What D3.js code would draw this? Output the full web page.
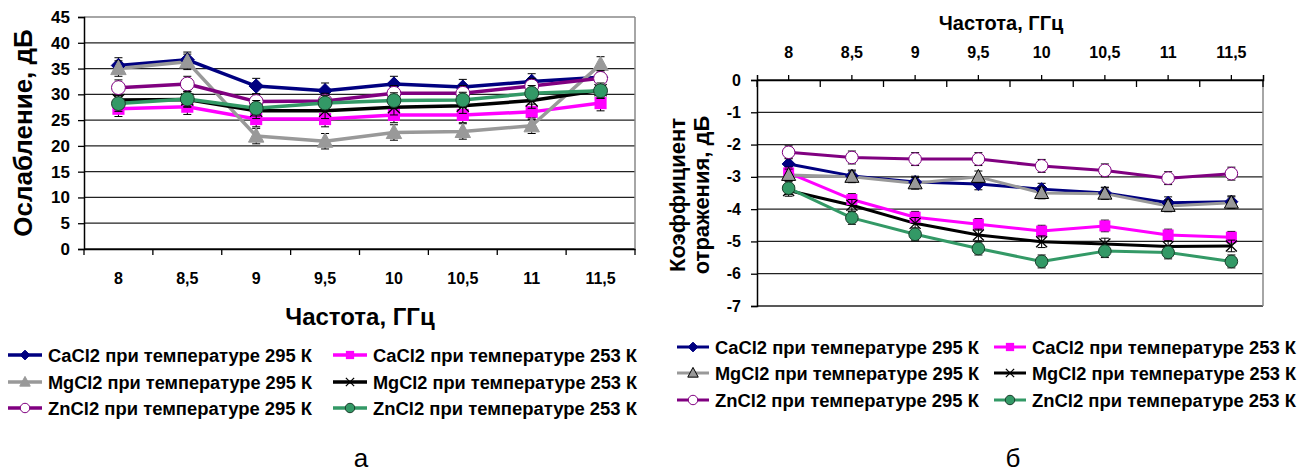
<!DOCTYPE html>
<html><head><meta charset="utf-8">
<script src="https://cdn.jsdelivr.net/npm/d3@7"></script>
<style>
body{margin:0;background:#fff;}
text{font-family:"Liberation Sans",Arial,sans-serif;}
</style></head>
<body><svg id="c" width="1312" height="476"></svg>
<script>
// ---------- data ----------
const categories = ["8","8,5","9","9,5","10","10,5","11","11,5"];
const seriesNames = [
  "CaCl2 при температуре 295 К","CaCl2 при температуре 253 К",
  "MgCl2 при температуре 295 К","MgCl2 при температуре 253 К",
  "ZnCl2 при температуре 295 К","ZnCl2 при температуре 253 К"];
// (а) attenuation, dB
const attenCa295 = [35.6,36.7,31.6,30.7,32.0,31.4,32.5,33.3];
const attenCa253 = [27.2,27.6,25.2,25.2,26.0,26.0,26.6,28.3];
const attenMg295 = [35.0,36.3,21.9,20.9,22.6,22.8,23.9,35.8];
const attenMg253 = [28.9,29.0,26.8,26.8,27.5,27.8,28.8,30.8];
const attenZn295 = [31.3,32.0,28.6,28.7,30.2,30.2,31.6,33.1];
const attenZn253 = [28.2,29.1,27.3,28.3,28.8,28.9,30.2,30.7];
const attenErr = [1.5,1.5,1.5,1.5,1.5,1.5];
// (б) reflection coefficient, dB
const reflCa295 = [-2.60,-2.97,-3.16,-3.22,-3.38,-3.50,-3.80,-3.77];
const reflCa253 = [-2.88,-3.70,-4.25,-4.47,-4.68,-4.52,-4.80,-4.87];
const reflMg295 = [-2.94,-3.00,-3.20,-3.00,-3.50,-3.52,-3.90,-3.80];
const reflMg253 = [-3.42,-3.88,-4.44,-4.80,-5.01,-5.08,-5.16,-5.14];
const reflZn295 = [-2.24,-2.40,-2.45,-2.45,-2.66,-2.80,-3.04,-2.90];
const reflZn253 = [-3.35,-4.27,-4.78,-5.22,-5.62,-5.30,-5.34,-5.62];
const reflErr = [0.18,0.18,0.18,0.18,0.2,0.2];
const attenTicks = [0,5,10,15,20,25,30,35,40,45];
const reflTicks = [0,-1,-2,-3,-4,-5,-6,-7];

// ---------- styles ----------
const styles = [
  {color:"#000080", marker:"diamond", fill:"#000080", stroke:"#000080"},
  {color:"#FF00FF", marker:"square", fill:"#FF00FF", stroke:"#FF00FF"},
  {color:"#999999", marker:"triangle", fill:"#999999", stroke:"#999999"},
  {color:"#000000", marker:"x", fill:"none", stroke:"#000000"},
  {color:"#800080", marker:"circle", fill:"#ffffff", stroke:"#800080"},
  {color:"#339966", marker:"circle", fill:"#339966", stroke:"#1a3d2b"}
];
const svg = d3.select("#c");
const FONT = "Liberation Sans, Arial, sans-serif";

function drawMarker(g, type, x, y, st, sz, strokeOverride){
  const s = sz || 1;
  if(type==="diamond"){
    g.append("path").attr("d",`M${x},${y-6.5*s}L${x+6.5*s},${y}L${x},${y+6.5*s}L${x-6.5*s},${y}Z`).attr("fill",st.fill).attr("stroke",st.stroke).attr("stroke-width",1);
  } else if(type==="square"){
    g.append("rect").attr("x",x-5.5*s).attr("y",y-5.5*s).attr("width",11*s).attr("height",11*s).attr("fill",st.fill);
  } else if(type==="triangle"){
    g.append("path").attr("d",`M${x},${y-7.5*s}L${x+7*s},${y+5.5*s}L${x-7*s},${y+5.5*s}Z`).attr("fill",st.fill).attr("stroke",strokeOverride||st.stroke).attr("stroke-width",1);
  } else if(type==="x"){
    g.append("path").attr("d",`M${x-5.5*s},${y-5.5*s}L${x+5.5*s},${y+5.5*s}M${x-5.5*s},${y+5.5*s}L${x+5.5*s},${y-5.5*s}`).attr("stroke",st.stroke).attr("stroke-width",1.3);
  } else if(type==="circle"){
    g.append("circle").attr("cx",x).attr("cy",y).attr("r",6.3*s).attr("fill",st.fill).attr("stroke",st.stroke).attr("stroke-width",1);
  }
}

function chart(cfg){
  const x = d3.scaleBand().domain(categories).range([cfg.left,cfg.right]);
  const y = d3.scaleLinear().domain(cfg.domain).range([cfg.bottom,cfg.top]);
  const g = svg.append("g");
  cfg.ticks.forEach(t=>{
    g.append("line").attr("x1",cfg.left).attr("x2",cfg.right).attr("y1",y(t)).attr("y2",y(t))
      .attr("stroke", (t===cfg.domain[1] && !cfg.topAxis) ? "#888" : "#222").attr("stroke-width",1.3);
  });
  g.append("line").attr("x1",cfg.right).attr("x2",cfg.right).attr("y1",cfg.top).attr("y2",cfg.bottom).attr("stroke","#888").attr("stroke-width",1.5);
  const ya = d3.axisLeft(y).tickValues(cfg.ticks).tickSize(6).tickPadding(cfg.yPad).tickFormat(d=>String(d));
  const yg = g.append("g").attr("transform",`translate(${cfg.left},0)`).call(ya);
  yg.select(".domain").attr("stroke","#000").attr("stroke-width",1.5);
  yg.selectAll(".tick line").attr("stroke","#000").attr("stroke-width",1.3);
  yg.selectAll("text").attr("font-family",FONT).attr("font-weight","bold").attr("font-size",cfg.yFont).attr("fill","#000");
  if(!cfg.topAxis){
    const xa = d3.axisBottom(x).tickSize(0).tickPadding(24);
    const xg = g.append("g").attr("transform",`translate(0,${cfg.bottom})`).call(xa);
    xg.select(".domain").attr("stroke","#000").attr("stroke-width",1.5);
    xg.selectAll("text").attr("font-family",FONT).attr("font-weight","bold").attr("font-size",16).attr("fill","#000");
    categories.concat(["end"]).forEach((c,i)=>{
      const xx = cfg.left + i*x.bandwidth();
      g.append("line").attr("x1",xx).attr("x2",xx).attr("y1",cfg.bottom).attr("y2",cfg.bottom+6).attr("stroke","#000").attr("stroke-width",1.3);
    });
  } else {
    const xa = d3.axisTop(x).tickSize(5).tickPadding(17);
    const xg = g.append("g").attr("transform",`translate(0,${cfg.top})`).call(xa);
    xg.select(".domain").attr("stroke","#000").attr("stroke-width",1.5);
    xg.selectAll(".tick line").attr("stroke","#000").attr("stroke-width",1.3);
    xg.selectAll("text").attr("font-family",FONT).attr("font-weight","bold").attr("font-size",16).attr("fill","#000");
    categories.concat(["end"]).forEach((c,i)=>{
      const xx = cfg.left + i*x.bandwidth();
      g.append("line").attr("x1",xx).attr("x2",xx).attr("y1",cfg.top).attr("y2",cfg.top+7).attr("stroke","#000").attr("stroke-width",1.3);
    });
  }
  const line = d3.line().x((d,i)=>x(categories[i])+x.bandwidth()/2).y(d=>y(d));
  cfg.series.forEach((vals,si)=>{
    const st = styles[si];
    g.append("path").attr("d",line(vals)).attr("fill","none").attr("stroke",st.color).attr("stroke-width",cfg.lw).attr("stroke-linejoin","round");
  });
  cfg.series.forEach((vals,si)=>{
    const st = styles[si];
    const e = cfg.errors[si];
    vals.forEach((v,i)=>{
      const cx = x(categories[i])+x.bandwidth()/2;
      g.append("line").attr("x1",cx).attr("x2",cx).attr("y1",y(v-e)).attr("y2",y(v+e)).attr("stroke","#000").attr("stroke-width",1);
      [v-e,v+e].forEach(w=>g.append("line").attr("x1",cx-4).attr("x2",cx+4).attr("y1",y(w)).attr("y2",y(w)).attr("stroke","#000").attr("stroke-width",1));
    });
    vals.forEach((v,i)=>{
      const cx = x(categories[i])+x.bandwidth()/2;
      drawMarker(g, st.marker, cx, y(v), st, cfg.ms, cfg.triStroke);
    });
  });
  return {x,y,g};
}

chart({left:84,right:635,top:17,bottom:249,domain:[0,45],ticks:attenTicks,
  series:[attenCa295,attenCa253,attenMg295,attenMg253,attenZn295,attenZn253],
  errors:attenErr, lw:3.5, ms:1.1, topAxis:false, yFont:17, yPad:8});
chart({left:757,right:1263,top:80,bottom:306,domain:[-7,0],ticks:reflTicks,
  series:[reflCa295,reflCa253,reflMg295,reflMg253,reflZn295,reflZn253],
  errors:reflErr, lw:3, ms:1, topAxis:true, triStroke:"#000", yFont:16, yPad:10});

// titles
svg.append("text").attr("x",360).attr("y",325).attr("text-anchor","middle").attr("font-weight","bold").attr("font-size",24).text("Частота, ГГц");
svg.append("text").attr("transform","translate(32,133) rotate(-90)").attr("text-anchor","middle").attr("font-weight","bold").attr("font-size",26).text("Ослабление, дБ");
svg.append("text").attr("x",1001).attr("y",30).attr("text-anchor","middle").attr("font-weight","bold").attr("font-size",20).text("Частота, ГГц");
svg.append("text").attr("transform","translate(685,195) rotate(-90)").attr("text-anchor","middle").attr("font-weight","bold").attr("font-size",22).text("Коэффициент");
svg.append("text").attr("transform","translate(709,195) rotate(-90)").attr("text-anchor","middle").attr("font-weight","bold").attr("font-size",22).text("отражения, дБ");

// legends
function legend(x0, x1, ys, lw, symW, tri){
  seriesNames.forEach((n,i)=>{
    const col = i%2, row = Math.floor(i/2);
    const lx = col===0 ? x0 : x1;
    const ly = ys[row];
    const st = styles[i];
    const g = svg.append("g");
    g.append("line").attr("x1",lx).attr("x2",lx+symW).attr("y1",ly).attr("y2",ly).attr("stroke",st.color).attr("stroke-width",lw);
    drawMarker(g, st.marker, lx+symW/2, ly, st, 0.75, i===2 && tri ? "#000" : null);
    g.append("text").attr("x",lx+symW+6).attr("y",ly+6.5).attr("font-weight","bold").attr("font-size",18).attr("textLength",264).attr("lengthAdjust","spacingAndGlyphs").text(n);
  });
}
legend(8, 333, [355,382,408], 3.5, 34, false);
legend(677, 994, [347,373,400], 3, 32, true);

svg.append("text").attr("x",361).attr("y",467).attr("text-anchor","middle").attr("font-family","Liberation Serif, Times New Roman, serif").attr("font-size",26).text("а");
svg.append("text").attr("x",1013).attr("y",467).attr("text-anchor","middle").attr("font-family","Liberation Serif, Times New Roman, serif").attr("font-size",26).text("б");
</script></body></html>
